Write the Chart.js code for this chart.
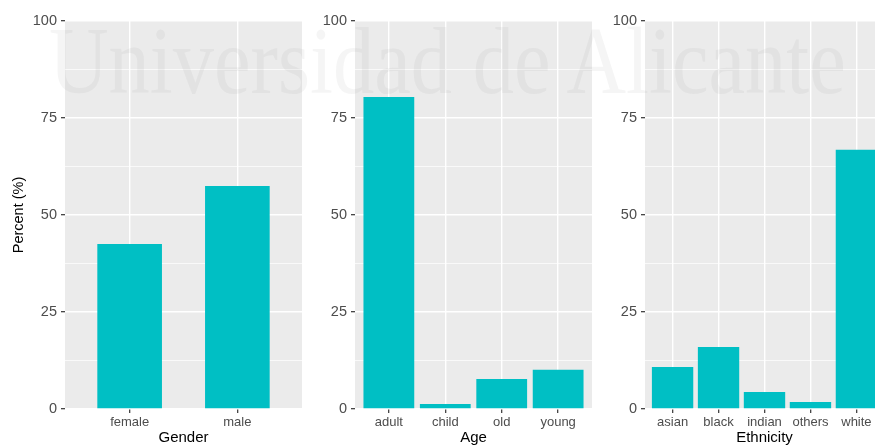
<!DOCTYPE html>
<html lang="en">
<head>
  <meta charset="UTF-8" />
  <title>Percent by gender, age and ethnicity</title>
  <script src="https://cdn.jsdelivr.net/npm/chart.js"></script>
  <style>
    body {
      margin: 0;
      background: #ffffff;
    }

    #wrap {
      position: relative;
      width: 875px;
      height: 447px;
      overflow: hidden;
    }

    #wrap canvas {
      position: absolute;
      top: 0;
    }

    .watermark {
      position: absolute;
      left: 49px;
      top: 14px;
      font-family: "Liberation Serif", "DejaVu Serif", serif;
      font-size: 95px;
      line-height: 1;
      white-space: nowrap;
      color: rgba(110, 110, 110, 0.07);
      transform: scaleX(0.868);
      transform-origin: left top;
      pointer-events: none;
    }
  </style>
</head>
<body>
  <div id="wrap">
    <canvas id="genderChart" width="305" height="447" style="left:0"></canvas>
    <canvas id="ageChart" width="290" height="447" style="left:305px"></canvas>
    <canvas id="ethnicityChart" width="292" height="447" style="left:595px"></canvas>
    <div class="watermark">Universidad de Alicante</div>
  </div>

  <script>
    const genderLabels = ["female", "male"];
    const genderValues = [42.5, 57.5];

    const ageLabels = ["adult", "child", "old", "young"];
    const ageValues = [80.4, 1.3, 7.7, 10.1];

    const ethnicityLabels = ["asian", "black", "indian", "others", "white"];
    const ethnicityValues = [10.8, 16.0, 4.4, 1.8, 66.8];

    const yTicks = [0, 12.5, 25, 37.5, 50, 62.5, 75, 87.5, 100];

    const fill = "#00BFC4";
    const panelBg = "#EBEBEB";
    const textGrey = "#4D4D4D";
    const font = "'Liberation Sans', Arial, sans-serif";

    // grey panel behind the grid, like ggplot's theme_grey
    const panelPlugin = {
      id: "panel",
      beforeDraw(chart) {
        const { ctx, chartArea: a } = chart;
        ctx.save();
        ctx.fillStyle = panelBg;
        ctx.fillRect(a.left, a.top, a.right - a.left, a.bottom - a.top);
        ctx.restore();
      }
    };

    const isMajor = v => v % 25 === 0;

    function makeChart(id, labels, values, xTitle, yTitle, barPct, axisWidth) {
      const ctx = document.getElementById(id).getContext("2d");
      return new Chart(ctx, {
        type: "bar",
        data: {
          datasets: [{
            data: values.map((v, i) => ({ x: i, y: v })),
            backgroundColor: fill,
            borderWidth: 0,
            categoryPercentage: 1,
            barPercentage: barPct
          }]
        },
        options: {
          responsive: false,
          animation: false,
          layout: { padding: { top: 21, right: 3, left: 0, bottom: 0 } },
          plugins: {
            legend: { display: false },
            tooltip: { enabled: false }
          },
          scales: {
            x: {
              type: "linear",
              min: -0.6,
              max: labels.length - 0.4,
              offset: false,
              afterBuildTicks: s => { s.ticks = labels.map((l, i) => ({ value: i })); },
              afterFit: s => { s.height = 38; },
              border: { display: false },
              grid: {
                offset: false,
                color: "#ffffff",
                lineWidth: 1.4,
                tickColor: "#333333",
                tickWidth: 1.2,
                tickLength: 4
              },
              ticks: {
                autoSkip: false,
                maxRotation: 0,
                padding: 2,
                color: textGrey,
                font: { family: font, size: 13 },
                callback: v => labels[v]
              },
              title: {
                display: true,
                text: xTitle,
                color: "#000000",
                font: { family: font, size: 15 },
                padding: { top: 0, bottom: 0 }
              }
            },
            y: {
              min: 0,
              max: 100,
              afterBuildTicks: s => { s.ticks = yTicks.map(v => ({ value: v })); },
              afterFit: s => { s.width = axisWidth; },
              border: { display: false },
              grid: {
                color: "#ffffff",
                lineWidth: c => (c.tick && isMajor(c.tick.value) ? 1.4 : 0.7),
                tickColor: c => (c.tick && isMajor(c.tick.value) ? "#333333" : "rgba(0,0,0,0)"),
                tickWidth: 1.2,
                tickLength: 4
              },
              ticks: {
                padding: 4,
                color: textGrey,
                font: { family: font, size: 14.5 },
                callback: v => (isMajor(v) ? v : "")
              },
              title: {
                display: !!yTitle,
                text: yTitle,
                color: "#000000",
                font: { family: font, size: 14.5 },
                padding: { top: 10, bottom: 0 }
              }
            }
          }
        },
        plugins: [panelPlugin]
      });
    }

    makeChart("genderChart", genderLabels, genderValues, "Gender", "Percent (%)", 0.6, 65);
    makeChart("ageChart", ageLabels, ageValues, "Age", "", 0.9, 50);
    makeChart("ethnicityChart", ethnicityLabels, ethnicityValues, "Ethnicity", "", 0.9, 50);
  </script>
</body>
</html>
